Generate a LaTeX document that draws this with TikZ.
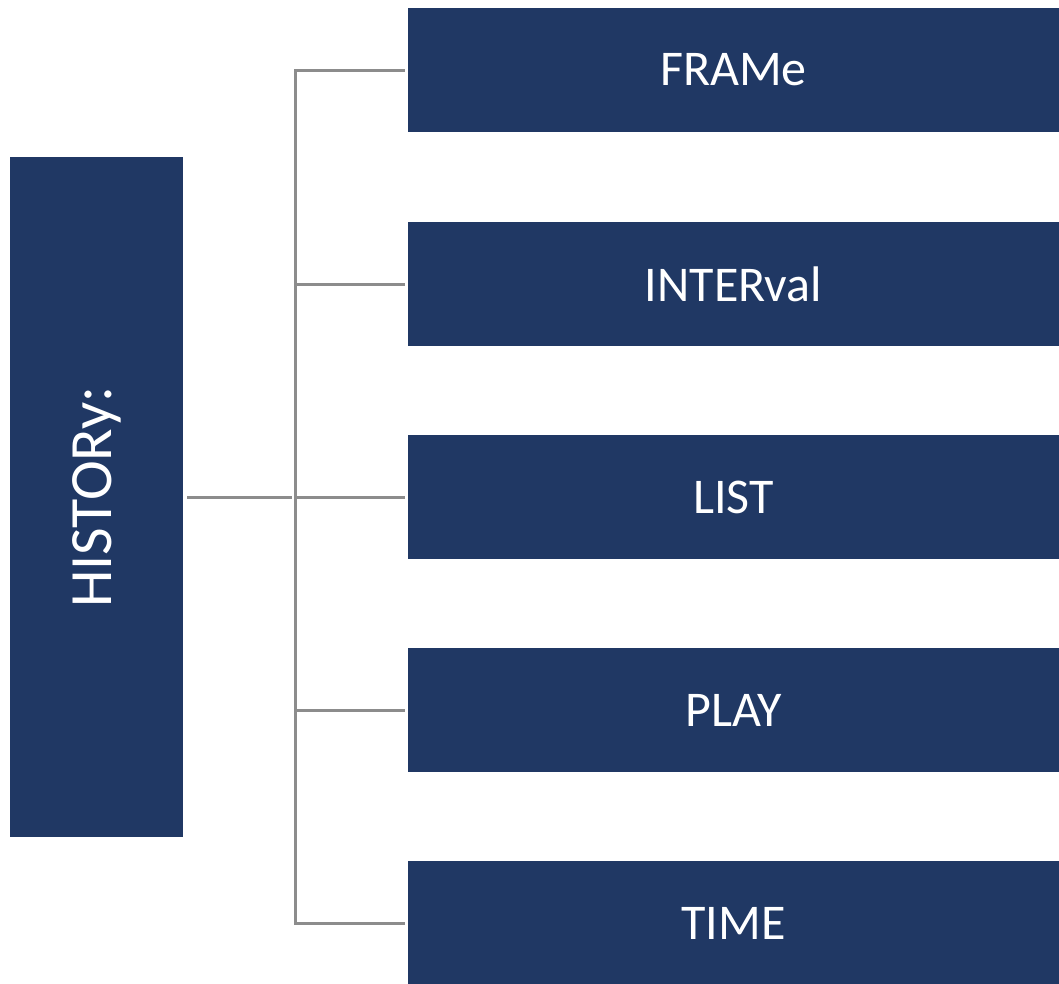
\documentclass[tikz,border=0pt]{standalone}
\usepackage{fontspec}
\setmainfont{Carlito}
\usetikzlibrary{positioning}
\definecolor{navy}{HTML}{203864}
\definecolor{linegray}{HTML}{8C8C8C}
\tikzset{
	item/.style={fill=navy, text=white, minimum width=651pt, minimum height=124pt, inner sep=0pt, font=\fontsize{50}{60}\selectfont},
	link/.style={draw=linegray, line width=3pt, shorten >=3pt}
}
\begin{document}
\begin{tikzpicture}[x=1pt,y=-1pt]
	\useasboundingbox (0,0) rectangle (1059,983);
	%Box a sinistra
	\node [fill=navy, text=white, rotate=90, minimum width=680pt, minimum height=173pt, inner sep=0pt, font=\fontsize{60}{72}\selectfont] (hist) at (96.5,497) {HISTORy:};
	%Voci
	\node [item] (frame) at (733.5,70) {FRAMe};
	\node [item] (interval) at (733.5,284) {INTERval};
	\node [item] (list) at (733.5,497) {LIST};
	\node [item] (play) at (733.5,710) {PLAY};
	\node [item] (time) at (733.5,923) {TIME};
	%Collegamenti
	\coordinate (trunk) at (295,497);
	\draw [link, shorten <=4pt] (hist.south) -- (trunk);
	\foreach \n in {frame,interval,list,play,time}
		\draw [link] (trunk) |- (\n.west);
\end{tikzpicture}
\end{document}
